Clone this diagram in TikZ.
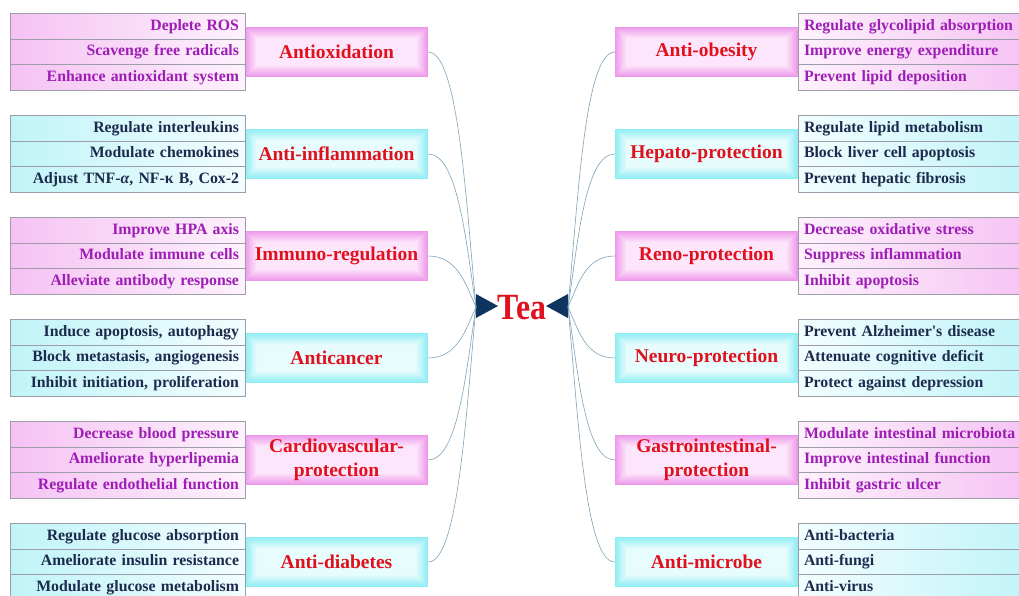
\documentclass[tikz,border=0pt]{standalone}
\usepackage{fontspec}
\setmainfont{Liberation Serif}
\definecolor{pE}{HTML}{EE98EA}
\definecolor{pM}{HTML}{FDE6FB}
\definecolor{pS}{HTML}{F5C2F3}
\definecolor{pW}{HTML}{FDF2FC}
\definecolor{cE}{HTML}{8EECF3}
\definecolor{cM}{HTML}{E6FCFD}
\definecolor{cS}{HTML}{C0F4F8}
\definecolor{cW}{HTML}{F2FDFE}
\definecolor{bgray}{HTML}{9C9CAA}
\definecolor{tred}{HTML}{E0101C}
\definecolor{tpurp}{HTML}{9E1DB6}
\definecolor{tnavy}{HTML}{1C2A4E}
\definecolor{navy}{HTML}{0E3560}
\definecolor{lnk}{HTML}{7FA3B8}
\newcommand\subfnt{\fontsize{15.8}{18}\selectfont\bfseries}
\newcommand\mainfnt{\fontsize{19.5}{24}\selectfont\bfseries}
\newcommand\teafnt{\fontsize{37}{40}\selectfont\bfseries}
\tikzset{
  glow/.style={path picture={
    \foreach \k in {1,...,20}{
      \pgfmathsetmacro\pc{min(100,\k*5.2)}
      \fill[#1M!\pc!#1E] ([xshift=\k*0.6pt,yshift=\k*0.6pt]path picture bounding box.south west)
        rectangle ([xshift=-\k*0.6pt,yshift=-\k*0.6pt]path picture bounding box.north east);
    }}},
  mainbox/.style={minimum width=183pt, minimum height=50pt, inner sep=0pt, text=tred, font=\mainfnt, align=center},
  mainP/.style={mainbox, fill=pE, glow=p},
  mainC/.style={mainbox, fill=cE, glow=c},
  subbox/.style={minimum width=235pt, minimum height=25.5pt, inner xsep=6pt, inner ysep=0pt, text width=223pt,
    text height=11pt, text depth=3.5pt, draw=bgray, line width=0.6pt, font=\subfnt},
  subLP/.style={subbox, left color=pS, right color=pW, text=tpurp, align=right},
  subLC/.style={subbox, left color=cS, right color=cW, text=tnavy, align=right},
  subRP/.style={subbox, left color=pW, right color=pS, text=tpurp, align=left},
  subRC/.style={subbox, left color=cW, right color=cS, text=tnavy, align=left},
  conn/.style={draw=lnk, line width=0.6pt},
  tea/.style={text=tred, font=\teafnt, inner sep=0pt}
}
\begin{document}
\begin{tikzpicture}[x=1pt,y=-1pt]
\clip (0,0) rectangle (1019,595);
\fill[white] (0,0) rectangle (1019,595);
% ---- left main boxes
\node[mainP] (L1) at (336.5,52) {Antioxidation};
\node[mainC] (L2) at (336.5,154) {Anti-inflammation};
\node[mainP] (L3) at (336.5,256) {Immuno-regulation};
\node[mainC] (L4) at (336.5,358) {Anticancer};
\node[mainP] (L5) at (336.5,460) {Cardiovascular-\\protection};
\node[mainC] (L6) at (336.5,562) {Anti-diabetes};
% ---- right main boxes
\node[mainP] (R1) at (706.5,52) {Anti-obesity};
\node[mainC] (R2) at (706.5,154) {Hepato-protection};
\node[mainP] (R3) at (706.5,256) {Reno-protection};
\node[mainC] (R4) at (706.5,358) {Neuro-protection};
\node[mainP] (R5) at (706.5,460) {Gastrointestinal-\\protection};
\node[mainC] (R6) at (706.5,562) {Anti-microbe};
% ---- left sub boxes
\node[subLP] (L1a) at (127.5,26.5) {Deplete ROS};
\node[subLP] (L1b) at (127.5,52) {Scavenge free radicals};
\node[subLP] (L1c) at (127.5,77.5) {Enhance antioxidant system};
\node[subLC] (L2a) at (127.5,128.5) {Regulate interleukins};
\node[subLC] (L2b) at (127.5,154) {Modulate chemokines};
\node[subLC] (L2c) at (127.5,179.5) {Adjust TNF-\textit{α}, NF-κ B, Cox-2};
\node[subLP] (L3a) at (127.5,230.5) {Improve HPA axis};
\node[subLP] (L3b) at (127.5,256) {Modulate immune cells};
\node[subLP] (L3c) at (127.5,281.5) {Alleviate antibody response};
\node[subLC] (L4a) at (127.5,332.5) {Induce apoptosis, autophagy};
\node[subLC] (L4b) at (127.5,358) {Block metastasis, angiogenesis};
\node[subLC] (L4c) at (127.5,383.5) {Inhibit initiation, proliferation};
\node[subLP] (L5a) at (127.5,434.5) {Decrease blood pressure};
\node[subLP] (L5b) at (127.5,460) {Ameliorate hyperlipemia};
\node[subLP] (L5c) at (127.5,485.5) {Regulate endothelial function};
\node[subLC] (L6a) at (127.5,536.5) {Regulate glucose absorption};
\node[subLC] (L6b) at (127.5,562) {Ameliorate insulin resistance};
\node[subLC] (L6c) at (127.5,587.5) {Modulate glucose metabolism};
% ---- right sub boxes
\node[subRP] (R1a) at (915.5,26.5) {Regulate glycolipid absorption};
\node[subRP] (R1b) at (915.5,52) {Improve energy expenditure};
\node[subRP] (R1c) at (915.5,77.5) {Prevent lipid deposition};
\node[subRC] (R2a) at (915.5,128.5) {Regulate lipid metabolism};
\node[subRC] (R2b) at (915.5,154) {Block liver cell apoptosis};
\node[subRC] (R2c) at (915.5,179.5) {Prevent hepatic fibrosis};
\node[subRP] (R3a) at (915.5,230.5) {Decrease oxidative stress};
\node[subRP] (R3b) at (915.5,256) {Suppress inflammation};
\node[subRP] (R3c) at (915.5,281.5) {Inhibit apoptosis};
\node[subRC] (R4a) at (915.5,332.5) {Prevent Alzheimer\textquotesingle s disease};
\node[subRC] (R4b) at (915.5,358) {Attenuate cognitive deficit};
\node[subRC] (R4c) at (915.5,383.5) {Protect against depression};
\node[subRP] (R5a) at (915.5,434.5) {Modulate intestinal microbiota};
\node[subRP] (R5b) at (915.5,460) {Improve intestinal function};
\node[subRP] (R5c) at (915.5,485.5) {Inhibit gastric ulcer};
\node[subRC] (R6a) at (915.5,536.5) {Anti-bacteria};
\node[subRC] (R6b) at (915.5,562) {Anti-fungi};
\node[subRC] (R6c) at (915.5,587.5) {Anti-virus};
% ---- centre
\node[tea] (tea) at (522,307.5) {\scalebox{0.86}[1]{Tea}};
\fill[navy] (476,294) -- (498,306) -- (476,318) -- cycle;
\fill[navy] (568,294) -- (546,306) -- (568,318) -- cycle;
\coordinate (tl) at (476,307);
\coordinate (tr) at (568,307);
% ---- connectors
\foreach \n/\d in {L1/255,L2/153,L3/51,L4/-51,L5/-153,L6/-255}
  \draw[conn] (\n.east) .. controls +(30,0) and +(-10,{-0.42*\d}) .. (tl);
\foreach \n/\d in {R1/255,R2/153,R3/51,R4/-51,R5/-153,R6/-255}
  \draw[conn] (\n.west) .. controls +(-30,0) and +(10,{-0.42*\d}) .. (tr);
\end{tikzpicture}
\end{document}
